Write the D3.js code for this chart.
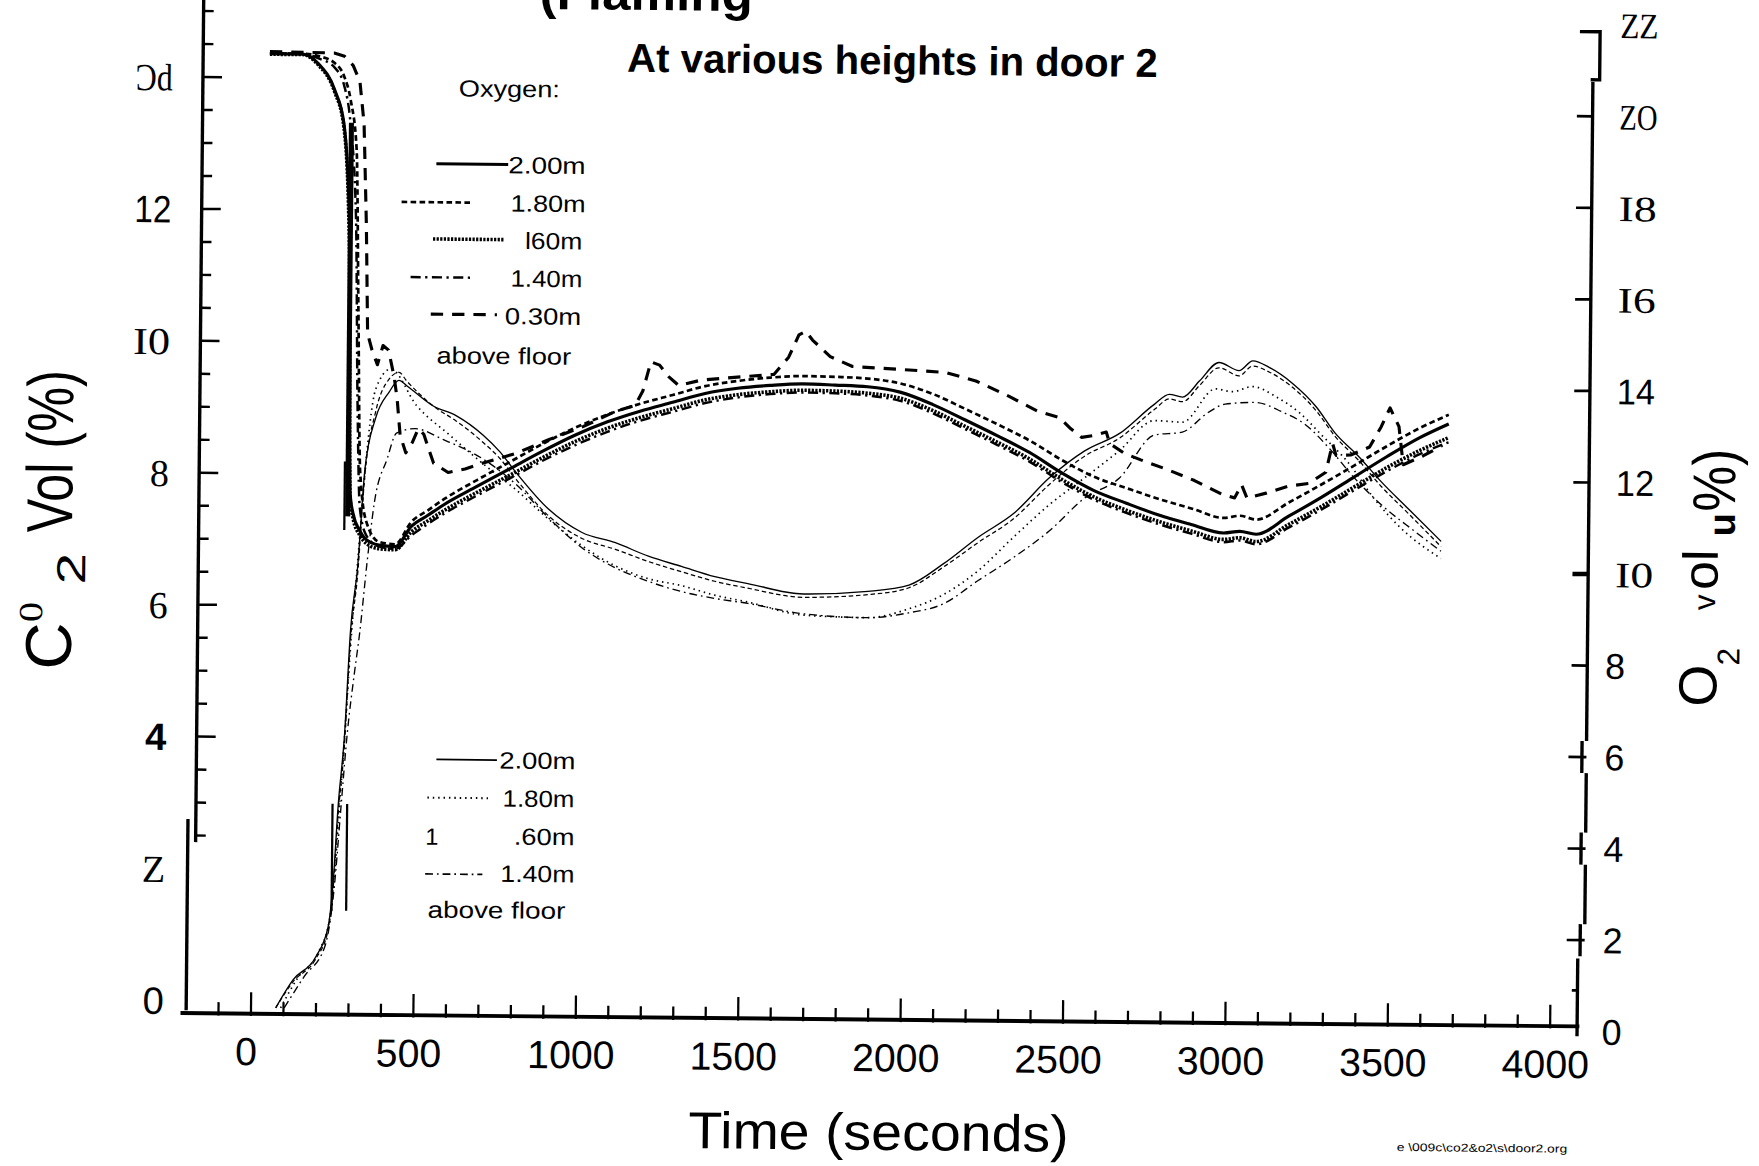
<!DOCTYPE html>
<html>
<head>
<meta charset="utf-8">
<title>CO2 and O2 at various heights in door 2</title>
<script src="https://cdn.jsdelivr.net/npm/d3@7/dist/d3.min.js"></script>
<style>
  html, body { margin: 0; padding: 0; background: #fff; }
  svg { display: block; }
</style>
</head>
<body>
<div id="chart"></div>
<script>
// Oxygen and CO2 at various heights in door 2 (scanned chart, redrawn)

// ---- Oxygen (right axis, vol %) ----
const o2TimeA = [30,130,180,230,260,280,290,300,320,340,380,430,480,530,580,680,780,880,980,1080,1180,1280,1380,1480,1580,1680,1780,1880,1980,2080,2180,2280,2380,2480,2580,2680,2780,2880,2980,3030,3080,3180,3280,3380,3480,3580,3670];
const o2TimeB = [30,130,180,230,260,280,300,310,320,340,380,430,480,530,580,680,780,880,980,1080,1180,1280,1380,1480,1580,1680,1780,1880,1980,2080,2180,2280,2380,2480,2580,2680,2780,2880,2980,3030,3080,3180,3280,3380,3480,3580,3670];
const o2At200 = [21.09,21.09,20.88,20.32,19.58,17.4,11.5,11.05,10.7,10.5,10.38,10.35,10.8,11.04,11.28,11.68,12.07,12.46,12.82,13.12,13.36,13.56,13.76,13.88,13.95,13.99,13.97,13.94,13.83,13.57,13.24,12.9,12.54,12.1,11.72,11.45,11.2,11.0,10.82,10.86,10.8,11.2,11.62,12.07,12.52,12.94,13.25];
const o2At180 = [21.1,21.1,21.05,20.9,20.6,20.1,19.0,15.5,12.0,10.9,10.45,10.4,10.9,11.15,11.4,11.82,12.22,12.62,12.98,13.28,13.52,13.72,13.92,14.04,14.12,14.16,14.15,14.12,14.02,13.8,13.48,13.15,12.8,12.38,12.02,11.78,11.55,11.35,11.15,11.2,11.12,11.5,11.9,12.32,12.75,13.15,13.45];
const o2At160 = [21.08,21.08,20.85,20.28,19.5,17.0,11.4,10.95,10.6,10.42,10.3,10.28,10.68,10.92,11.15,11.55,11.93,12.32,12.68,12.98,13.22,13.42,13.62,13.74,13.81,13.85,13.84,13.8,13.7,13.44,13.1,12.76,12.4,11.96,11.58,11.3,11.06,10.86,10.68,10.72,10.64,11.02,11.42,11.85,12.28,12.66,12.95];
const o2At140 = [21.1,21.1,21.0,20.8,20.4,19.6,17.5,13.5,11.2,10.6,10.35,10.3,10.6,10.85,11.08,11.48,11.86,12.25,12.6,12.9,13.15,13.35,13.55,13.68,13.76,13.8,13.79,13.75,13.64,13.38,13.04,12.7,12.34,11.9,11.52,11.24,11.0,10.8,10.62,10.66,10.58,10.95,11.35,11.78,12.2,12.58,12.85];
const o2Time030 = [30,228,260,287,308,322,332,339,353,370,387,404,422,432,442,460,480,498,515,529,546,591,643,701,798,901,1005,1108,1164,1188,1212,1239,1267,1298,1367,1488,1591,1636,1667,1688,1709,1764,1833,1971,2119,2213,2316,2402,2471,2506,2540,2575,2616,2627,2672,2723,2799,2889,2979,3013,3034,3051,3110,3179,3241,3293,3313,3324,3369,3427,3462,3489,3517,3531,3593,3651];
const o2At030 = [21.14,21.12,21.05,20.85,20.5,19.58,17.38,15.0,14.64,14.32,14.74,14.64,14.06,13.57,12.79,12.4,12.63,12.93,12.81,12.52,12.18,11.98,12.06,12.2,12.41,12.72,13.01,13.36,13.48,13.8,14.44,14.37,14.12,13.93,14.05,14.13,14.19,14.57,15.06,15.14,14.95,14.59,14.38,14.33,14.27,14.09,13.76,13.45,13.31,13.07,12.88,12.92,13.0,12.75,12.54,12.4,12.21,11.96,11.65,11.59,11.88,11.59,11.7,11.86,11.92,12.17,12.8,12.54,12.55,12.73,13.17,13.59,13.18,12.35,12.55,12.78];

// ---- CO2 (left axis, vol %) ----
const co2Time200 = [76,129,198,235,249,262,280,295,315,335,366,407,437,461,542,615,698,750,800,901,1005,1108,1210,1312,1415,1517,1688,1887,2013,2119,2226,2333,2443,2550,2657,2764,2809,2850,2902,2961,3023,3065,3117,3189,3262,3320,3393,3465,3548,3650];
const co2At200 = [-0.1,0.33,0.68,1.14,1.8,2.95,4.06,5.62,6.58,8.09,8.85,9.25,9.43,9.35,9.05,8.9,8.61,8.36,8.05,7.5,7.15,7.0,6.8,6.65,6.5,6.4,6.25,6.3,6.4,6.73,7.14,7.5,8.05,8.46,8.73,9.18,9.33,9.29,9.54,9.82,9.7,9.85,9.75,9.51,9.16,8.77,8.42,8.03,7.63,7.14];
const co2At160 = [-0.1,0.3,0.65,1.08,1.7,2.8,3.9,5.45,6.45,8.0,8.95,9.45,9.55,9.42,9.05,8.82,8.5,8.26,7.95,7.4,7.06,6.9,6.72,6.57,6.43,6.33,6.2,6.25,6.36,6.68,7.06,7.42,7.95,8.38,8.66,9.1,9.26,9.22,9.47,9.74,9.62,9.77,9.68,9.45,9.1,8.72,8.36,7.96,7.56,7.06];
const co2Time180 = [91,142,207,239,253,267,281,298,315,332,366,411,492,594,718,800,901,1005,1108,1210,1312,1415,1517,1688,1887,2013,2119,2226,2333,2443,2550,2657,2764,2850,2951,3003,3065,3137,3210,3282,3362,3444,3527,3650];
const co2At180 = [-0.1,0.35,0.76,1.24,1.9,3.0,4.1,5.56,6.66,7.85,9.3,9.6,9.05,8.61,8.1,7.79,7.35,6.95,6.65,6.46,6.36,6.22,6.12,5.93,5.9,6.04,6.26,6.63,7.14,7.64,8.05,8.47,8.93,8.91,9.42,9.38,9.46,9.31,9.07,8.72,8.32,7.77,7.33,6.88];
const co2Time140 = [102,163,225,253,271,288,308,324,344,365,403,431,488,574,698,798,901,1005,1108,1210,1312,1415,1517,1688,1887,2013,2119,2226,2333,2443,2550,2657,2764,2850,2929,2981,3074,3157,3229,3302,3381,3464,3568,3650];
const co2At140 = [-0.1,0.38,0.83,1.75,2.95,4.06,4.97,5.62,6.66,7.58,8.24,8.63,8.7,8.54,8.25,7.88,7.37,6.92,6.62,6.42,6.27,6.17,6.1,5.95,5.9,5.98,6.12,6.48,6.83,7.24,7.74,8.05,8.71,8.76,9.06,9.19,9.22,9.08,8.89,8.54,8.09,7.69,7.29,6.99];

// scan marks (straight bars on the copy)
const barO2Time = [283, 273];
const barO2Top = [19.6, 12.2];
const barO2Bottom = [11.0, 10.7];
const barCo2Time = [245, 290];
const barCo2Top = [3.0, 3.0];
const barCo2Bottom = [1.38, 1.38];

// axes text as printed on the copy
const xTicks = [0, 500, 1000, 1500, 2000, 2500, 3000, 3500, 4000];
const leftTickValues = [0, 2, 4, 6, 8, 10, 12, 14];
const leftTickText = ["0", "Z", "4", "6", "8", "I0", "12", "\u0186d"];
const rightTickValues = [0, 2, 4, 6, 8, 10, 12, 14, 16, 18, 20, 22];
const rightTickText = ["0", "2", "4", "6", "8", "I0", "12", "14", "I6", "I8", "ZO", "ZZ"];
const o2LegendText = ["2.00m", "1.80m", "l60m", "1.40m", "0.30m"];
const co2LegendText = ["2.00m", "1.80m", ".60m", "1.40m"];

// ---- drawing ----
const W = 1759, H = 1166, S = W / 1568;
const TILT = 0.55, CX = 790, CY = 480;
const sa = Math.sin(TILT * Math.PI / 180), ca = Math.cos(TILT * Math.PI / 180);
function unrot(x, y) {
  return [CX + (x - CX) * ca + (y - CY) * sa, CY - (x - CX) * sa + (y - CY) * ca];
}

const sans = "'Liberation Sans', Arial, Helvetica, sans-serif";
const serif = "'Liberation Serif', 'DejaVu Serif', 'Times New Roman', serif";

const svg = d3.select("#chart").append("svg")
  .attr("width", W).attr("height", H);
svg.append("rect").attr("width", W).attr("height", H).attr("fill", "#fff");
const g = svg.append("g")
  .attr("transform", `scale(${S}) rotate(${TILT},${CX},${CY})`);

const x = d3.scaleLinear().domain([0, 4000]).range([227.8, 1385.96]);
const yC = d3.scaleLinear().domain([0, 14]).range([897.7, 74.5]);
const yO = d3.scaleLinear().domain([0, 22]).range([913.7, 16.1]);

function text(px, py, str, o) {
  const [tx, ty] = unrot(px, py);
  const t = g.append("text")
    .attr("x", tx).attr("y", ty)
    .attr("font-family", o.font || sans)
    .attr("font-size", o.size)
    .attr("font-weight", o.bold ? "bold" : null)
    .attr("text-anchor", o.anchor || "start")
    .attr("fill", "#000")
    .text(str);
  if (o.len) t.attr("textLength", o.len).attr("lengthAdjust", "spacingAndGlyphs");
  return t;
}

// titles (the upper title line is cut by the page edge on the copy)
text(481, 8, "(Flaming", {size: 42, bold: true, len: 190});
text(559, 64, "At various heights in door 2", {size: 36, bold: true, len: 473});

// bottom axis
const axisY = 909;
g.append("line").attr("x1", 165).attr("x2", 1412).attr("y1", axisY).attr("y2", axisY)
  .attr("stroke", "#000").attr("stroke-width", 3.5);
g.selectAll(".xtick").data(d3.range(-100, 4001, 100)).enter().append("line")
  .attr("x1", d => x(d)).attr("x2", d => x(d))
  .attr("y1", axisY + 2).attr("y2", d => axisY + 2 - (d % 500 === 0 ? 21 : 12))
  .attr("stroke", "#000").attr("stroke-width", 2);
g.selectAll(".xlab").data(xTicks).enter().append("text")
  .attr("x", d => x(d) - 4).attr("y", 955)
  .attr("text-anchor", "middle")
  .attr("font-family", sans).attr("font-size", 35)
  .text(d => d);
text(783, 1025, "Time (seconds)", {size: 46, anchor: "middle", len: 339});
text(1245, 1026, "e \\009c\\co2&o2\\s\\door2.org", {size: 10, len: 152});

// left axis (CO2)
const leftX = 177;
g.append("line").attr("x1", leftX).attr("x2", leftX).attr("y1", yC(15.3)).attr("y2", yC(2.4))
  .attr("stroke", "#000").attr("stroke-width", 3);
g.append("line").attr("x1", leftX - 7).attr("x2", leftX - 7).attr("y1", yC(2.75)).attr("y2", yC(-0.15))
  .attr("stroke", "#000").attr("stroke-width", 3);
g.selectAll(".ltick").data(d3.range(2.5, 15.01, 0.5)).enter().append("line")
  .attr("x1", leftX).attr("x2", d => leftX + (d % 2 === 0 ? 17 : 9))
  .attr("y1", d => yC(d)).attr("y2", d => yC(d))
  .attr("stroke", "#000").attr("stroke-width", 2.2);
const leftFonts = [sans, serif, sans, serif, serif, serif, sans, serif];
leftTickValues.forEach((v, i) => {
  g.append("text")
    .attr("x", 150).attr("y", yC(v))
    .attr("dy", "0.36em")
    .attr("text-anchor", "end")
    .attr("font-family", leftFonts[i])
    .attr("font-weight", i === 2 ? "bold" : null)
    .attr("font-size", 34)
    .attr("textLength", leftTickText[i].length > 1 ? 33 : null)
    .attr("lengthAdjust", "spacingAndGlyphs")
    .text(leftTickText[i]);
});

// right axis (O2)
const rightX = 1416;
[[20.75, 6.35], [5.65, 4.35], [3.65, 2.35]].forEach(([a, b]) => {
  g.append("line").attr("x1", rightX).attr("x2", rightX).attr("y1", yO(a)).attr("y2", yO(b))
    .attr("stroke", "#000").attr("stroke-width", 3);
});
[6, 4, 2].forEach(v => {
  g.append("line").attr("x1", rightX - 4).attr("x2", rightX - 4)
    .attr("y1", yO(v + 0.35)).attr("y2", yO(v - 0.35))
    .attr("stroke", "#000").attr("stroke-width", 3);
});
g.append("line").attr("x1", rightX - 6).attr("x2", rightX - 6).attr("y1", yO(1.6)).attr("y2", yO(-0.1))
  .attr("stroke", "#000").attr("stroke-width", 3);
// bracket at the top of the right axis
g.append("path")
  .attr("d", `M${rightX - 12},${yO(21.85)} H${rightX + 6} V${yO(20.8)} H${rightX - 2}`)
  .attr("fill", "none").attr("stroke", "#000").attr("stroke-width", 3);
g.selectAll(".rtick").data(d3.range(2, 20.01, 2)).enter().append("line")
  .attr("x1", d => rightX - (d <= 6 ? 16 : 14)).attr("x2", rightX)
  .attr("y1", d => yO(d)).attr("y2", d => yO(d))
  .attr("stroke", "#000").attr("stroke-width", d => d === 10 ? 4 : 2.4);
g.append("line").attr("x1", rightX - 11).attr("x2", rightX - 6)
  .attr("y1", yO(0.9)).attr("y2", yO(0.9)).attr("stroke", "#000").attr("stroke-width", 2.4);
const rightFonts = [sans, sans, sans, sans, sans, serif, sans, sans, serif, serif, serif, serif];
rightTickValues.forEach((v, i) => {
  g.append("text")
    .attr("x", v <= 8 ? 1432 : 1440).attr("y", yO(v))
    .attr("dy", "0.36em")
    .attr("font-family", rightFonts[i])
    .attr("font-size", 32)
    .attr("textLength", rightTickText[i].length > 1 ? 34 : null)
    .attr("lengthAdjust", "spacingAndGlyphs")
    .text(rightTickText[i]);
});

// axis titles (vertical)
{
  const [ax, ay] = unrot(63, 597);
  const lg = g.append("g").attr("transform", `translate(${ax},${ay}) rotate(-90)`);
  lg.append("text").attr("x", 0).attr("y", 0).attr("font-family", sans).attr("font-size", 58)
    .attr("textLength", 42).attr("lengthAdjust", "spacingAndGlyphs").text("C");
  lg.append("text").attr("x", 42).attr("y", -26).attr("font-family", serif).attr("font-size", 30)
    .attr("textLength", 18).attr("lengthAdjust", "spacingAndGlyphs").text("0");
  lg.append("text").attr("x", 76).attr("y", 12).attr("font-family", sans).attr("font-size", 36)
    .attr("textLength", 28).attr("lengthAdjust", "spacingAndGlyphs").text("2");
  lg.append("text").attr("x", 122).attr("y", 0).attr("font-family", sans).attr("font-size", 58)
    .attr("textLength", 145).attr("lengthAdjust", "spacingAndGlyphs").text("Vol (%)");
}
{
  const [ax, ay] = unrot(1530, 630);
  const rg = g.append("g").attr("transform", `translate(${ax},${ay}) rotate(-90)`);
  rg.append("text").attr("x", 0).attr("y", 0).attr("font-family", sans).attr("font-size", 48).text("O");
  rg.append("text").attr("x", 37).attr("y", 20).attr("font-family", sans).attr("font-size", 28).text("2");
  rg.append("text").attr("x", 86).attr("y", -2).attr("font-family", sans).attr("font-size", 28).text("v");
  rg.append("text").attr("x", 104).attr("y", 0).attr("font-family", sans).attr("font-size", 44)
    .attr("textLength", 36).attr("lengthAdjust", "spacingAndGlyphs").text("ol");
  rg.append("text").attr("x", 152).attr("y", 15).attr("font-family", sans).attr("font-size", 34)
    .attr("font-weight", "bold").text("u");
  rg.append("text").attr("x", 174).attr("y", 15).attr("font-family", sans).attr("font-size", 54)
    .attr("textLength", 56).attr("lengthAdjust", "spacingAndGlyphs").text("%)");
}

// series
const o2Style = [
  {dash: null, w: 2.8},
  {dash: "5,3", w: 2.4},
  {dash: "2,1.2", w: 3.2},
  {dash: "9,4,2,4", w: 2.2},
  {dash: "11,8", w: 2.8}
];
const co2Style = [
  {dash: null, w: 1.2},
  {dash: "1.3,3.5", w: 1.5},
  {dash: "4,2.5", w: 1.1},
  {dash: "7,3.5,1.5,3.5", w: 1.2}
];
const o2Series = [
  d3.zip(o2TimeA, o2At200),
  d3.zip(o2TimeB, o2At180),
  d3.zip(o2TimeA, o2At160),
  d3.zip(o2TimeB, o2At140),
  d3.zip(o2Time030, o2At030)
];
const co2Series = [
  d3.zip(co2Time200, co2At200),
  d3.zip(co2Time180, co2At180),
  d3.zip(co2Time200, co2At160),
  d3.zip(co2Time140, co2At140)
];

const lineC = d3.line().x(d => x(d[0])).y(d => yC(d[1])).curve(d3.curveMonotoneX);
const lineO = d3.line().x(d => x(d[0])).y(d => yO(d[1])).curve(d3.curveMonotoneX);
const lineOraw = d3.line().x(d => x(d[0])).y(d => yO(d[1]));

co2Series.forEach((s, i) => {
  g.append("path").datum(s).attr("d", lineC)
    .attr("fill", "none").attr("stroke", "#000")
    .attr("stroke-width", co2Style[i].w)
    .attr("stroke-dasharray", co2Style[i].dash);
});
o2Series.forEach((s, i) => {
  g.append("path").datum(s).attr("d", i === 4 ? lineOraw : lineO)
    .attr("fill", "none").attr("stroke", "#000")
    .attr("stroke-width", o2Style[i].w)
    .attr("stroke-dasharray", o2Style[i].dash)
    .attr("stroke-linejoin", "round");
});

// straight bars on the copy
barO2Time.forEach((t, i) => {
  g.append("line").attr("x1", x(t)).attr("x2", x(t))
    .attr("y1", yO(barO2Top[i])).attr("y2", yO(barO2Bottom[i]))
    .attr("stroke", "#000").attr("stroke-width", i === 0 ? 4.5 : 2);
});
barCo2Time.forEach((t, i) => {
  g.append("line").attr("x1", x(t)).attr("x2", x(t))
    .attr("y1", yC(barCo2Top[i])).attr("y2", yC(barCo2Bottom[i]))
    .attr("stroke", "#000").attr("stroke-width", 2);
});

// legends
function sample(x1, x2, yy, st) {
  const [ax, ay] = unrot(x1, yy);
  g.append("line").attr("x1", ax).attr("x2", ax + (x2 - x1)).attr("y1", ay).attr("y2", ay)
    .attr("stroke", "#000").attr("stroke-width", st.w + (st.w < 2 ? 0.3 : 0))
    .attr("stroke-dasharray", st.dash);
}
text(409, 86, "Oxygen:", {size: 21, len: 90});
const o2LegLines = [[389, 453, 146], [358, 420, 180], [386, 449, 213], [366, 420, 247], [384, 443, 280]];
const o2LegText = [[453, 154.5, 69], [455, 188.5, 67], [468, 222, 51], [455, 255.5, 64], [450, 289, 68]];
o2LegendText.forEach((s, i) => {
  sample(o2LegLines[i][0], o2LegLines[i][1], o2LegLines[i][2], o2Style[i]);
  text(o2LegText[i][0], o2LegText[i][1], s, {size: 21, len: o2LegText[i][2]});
});
text(389, 324, "above floor", {size: 21, len: 120});

const co2LegLines = [[389, 443, 677], [381, 435, 711], null, [379, 430, 779]];
const co2LegText = [[445, 685, 68], [448, 719, 64], [458, 753, 54], [446, 786, 66]];
co2LegendText.forEach((s, i) => {
  if (co2LegLines[i]) sample(co2LegLines[i][0], co2LegLines[i][1], co2LegLines[i][2], co2Style[i]);
  text(co2LegText[i][0], co2LegText[i][1], s, {size: 21, len: co2LegText[i][2]});
});
text(379, 753, "1", {size: 21});
text(381, 818, "above floor", {size: 21, len: 123});
</script>
</body>
</html>
